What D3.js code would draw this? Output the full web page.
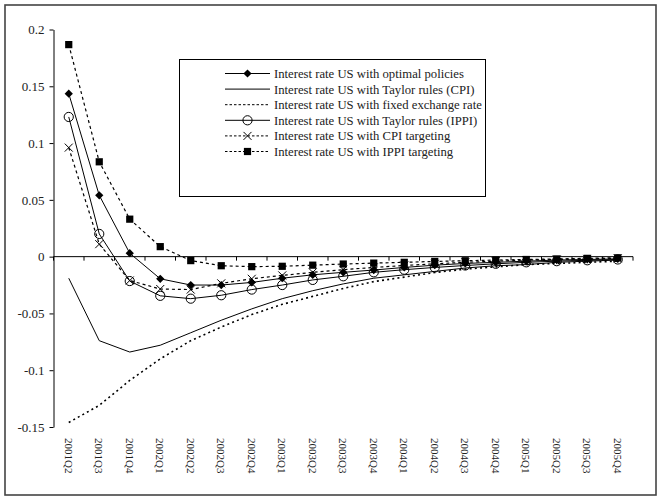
<!DOCTYPE html>
<html>
<head>
<meta charset="utf-8">
<script src="https://cdn.jsdelivr.net/npm/d3@7"></script>
<style>
  html, body { margin: 0; padding: 0; background: #fff; }
  svg { display: block; }
  text { font-family: "Liberation Serif", "DejaVu Serif", serif; fill: #222; }
</style>
</head>
<body>
<script>
// Quarters on the horizontal axis
const quarters = ["2001Q2","2001Q3","2001Q4","2002Q1","2002Q2","2002Q3","2002Q4",
  "2003Q1","2003Q2","2003Q3","2003Q4","2004Q1","2004Q2","2004Q3","2004Q4",
  "2005Q1","2005Q2","2005Q3","2005Q4"];

// US interest-rate responses under each policy regime
const optimalPolicies = [0.1435, 0.054, 0.003, -0.0195, -0.025, -0.025, -0.0227, -0.019, -0.016,
  -0.0138, -0.0118, -0.0095, -0.0075, -0.006, -0.005, -0.004, -0.003, -0.0025, -0.002];
const taylorCPI = [-0.019, -0.074, -0.084, -0.078, -0.067, -0.056, -0.046, -0.037, -0.030,
  -0.024, -0.019, -0.016, -0.013, -0.010, -0.008, -0.007, -0.005, -0.004, -0.003];
const fixedExchange = [-0.146, -0.131, -0.109, -0.090, -0.074, -0.062, -0.051, -0.042, -0.035,
  -0.028, -0.022, -0.018, -0.014, -0.011, -0.009, -0.007, -0.006, -0.005, -0.004];
const taylorIPPI = [0.123, 0.020, -0.0215, -0.0345, -0.037, -0.034, -0.029, -0.025, -0.0205,
  -0.0173, -0.0138, -0.0115, -0.0095, -0.0078, -0.0063, -0.005, -0.004, -0.0032, -0.0025];
const cpiTargeting = [0.096, 0.011, -0.021, -0.0285, -0.029, -0.0235, -0.0195, -0.0165, -0.0138,
  -0.0115, -0.0095, -0.0078, -0.0063, -0.005, -0.004, -0.003, -0.0025, -0.002, -0.0015];
const ippiTargeting = [0.1867, 0.0835, 0.033, 0.0088, -0.0035, -0.008, -0.0088, -0.0085, -0.0075,
  -0.0065, -0.0057, -0.005, -0.0042, -0.0036, -0.003, -0.0025, -0.002, -0.0015, -0.001];

const seriesNames = [
  "Interest rate US with optimal policies",
  "Interest rate US with Taylor rules (CPI)",
  "Interest rate US with fixed exchange rate",
  "Interest rate US with Taylor rules (IPPI)",
  "Interest rate US with CPI targeting",
  "Interest rate US with IPPI targeting"
];

// Vertical axis ticks
const yTickValues = [-0.15, -0.1, -0.05, 0, 0.05, 0.1, 0.15, 0.2];
const yTickLabels = ["-0.15", "-0.1", "-0.05", "0", "0.05", "0.1", "0.15", "0.2"];

const W = 661, H = 497;
const plot = { left: 53.5, right: 633, top: 29.5, bottom: 427 };

const series = [
  { name: seriesNames[0], values: optimalPolicies, marker: "diamond", dash: null, width: 1 },
  { name: seriesNames[1], values: taylorCPI, marker: null, dash: null, width: 1 },
  { name: seriesNames[2], values: fixedExchange, marker: null, dash: "2,3.2", width: 1.6 },
  { name: seriesNames[3], values: taylorIPPI, marker: "circle", dash: null, width: 1 },
  { name: seriesNames[4], values: cpiTargeting, marker: "cross", dash: "3,3", width: 1.2 },
  { name: seriesNames[5], values: ippiTargeting, marker: "square", dash: "3,3", width: 1.2 }
];

const svg = d3.select("body").append("svg").attr("width", W).attr("height", H);

// Outer frame
svg.append("rect")
  .attr("x", 5).attr("y", 5).attr("width", 651).attr("height", 490)
  .attr("fill", "none").attr("stroke", "#444").attr("stroke-width", 1.6);

const x = d3.scaleBand().domain(quarters).range([plot.left, plot.right]).padding(0);
const y = d3.scaleLinear().domain([-0.15, 0.2]).range([plot.bottom, plot.top]);
const cx = q => x(q) + x.bandwidth() / 2;

// Y axis
const yAxis = d3.axisLeft(y)
  .tickValues(yTickValues)
  .tickFormat((d, i) => yTickLabels[i])
  .tickSizeOuter(0)
  .tickSizeInner(4)
  .tickPadding(5);
const gy = svg.append("g").attr("transform", `translate(${plot.left},0)`).call(yAxis);
gy.selectAll("path.domain").attr("stroke", "#000");
gy.selectAll(".tick line").attr("stroke", "#000");
gy.selectAll(".tick text")
  .attr("font-family", "Liberation Serif, serif")
  .attr("font-size", 13).attr("fill", "#222");

// Zero line with category boundary ticks
const gx = svg.append("g").attr("transform", `translate(0,${y(0)})`);
gx.append("line").attr("x1", plot.left).attr("x2", plot.right)
  .attr("stroke", "#000").attr("stroke-width", 1);
const boundaries = quarters.map(q => x(q)).concat([x(quarters[quarters.length - 1]) + x.bandwidth()]);
gx.selectAll("line.tk").data(boundaries).join("line").attr("class", "tk")
  .attr("x1", d => d).attr("x2", d => d).attr("y1", 0).attr("y2", 4)
  .attr("stroke", "#000");

// Quarter labels along the bottom, rotated
const xAxis = d3.axisBottom(x).tickSize(0).tickPadding(0);
const gxl = svg.append("g").attr("transform", `translate(0,${plot.bottom + 11})`).call(xAxis);
gxl.select("path.domain").remove();
gxl.selectAll(".tick text")
  .attr("font-family", "Liberation Serif, serif")
  .attr("font-size", 11).attr("fill", "#222")
  .attr("transform", "rotate(90)")
  .attr("text-anchor", "start")
  .attr("x", 0).attr("y", 0).attr("dy", "0.35em");

// Lines
const line = d3.line().x((d, i) => cx(quarters[i])).y(d => y(d));
const gLines = svg.append("g");
series.forEach(s => {
  gLines.append("path")
    .datum(s.values)
    .attr("d", line)
    .attr("fill", "none")
    .attr("stroke", "#000")
    .attr("stroke-width", s.width)
    .attr("stroke-dasharray", s.dash);
});

// Marker drawing
function drawMarker(g, type, px, py) {
  if (type === "diamond") {
    g.append("path").attr("d", d3.symbol(d3.symbolSquare, 34)())
      .attr("transform", `translate(${px},${py}) rotate(45)`).attr("fill", "#000");
  } else if (type === "square") {
    g.append("path").attr("d", d3.symbol(d3.symbolSquare, 52)())
      .attr("transform", `translate(${px},${py})`).attr("fill", "#000");
  } else if (type === "circle") {
    g.append("circle").attr("cx", px).attr("cy", py).attr("r", 4.6)
      .attr("fill", "none").attr("stroke", "#000").attr("stroke-width", 1);
  } else if (type === "cross") {
    g.append("path").attr("d", "M-4,-4L4,4M-4,4L4,-4")
      .attr("transform", `translate(${px},${py})`)
      .attr("fill", "none").attr("stroke", "#000").attr("stroke-width", 1);
  }
}

const gMarks = svg.append("g");
series.forEach(s => {
  if (!s.marker) return;
  s.values.forEach((v, i) => drawMarker(gMarks, s.marker, cx(quarters[i]), y(v)));
});

// Legend
const legend = svg.append("g");
legend.append("rect")
  .attr("x", 179.5).attr("y", 59.5).attr("width", 306).attr("height", 137)
  .attr("fill", "#fff").attr("stroke", "#000").attr("stroke-width", 1);
series.forEach((s, i) => {
  const ly = 73.5 + i * 15.6;
  legend.append("line")
    .attr("x1", 225).attr("x2", 270).attr("y1", ly).attr("y2", ly)
    .attr("stroke", "#000").attr("stroke-width", 1)
    .attr("stroke-dasharray", s.dash ? "2.5,2" : null);
  if (s.marker) drawMarker(legend, s.marker, 247.5, ly);
  legend.append("text")
    .attr("x", 274).attr("y", ly).attr("dy", "0.35em")
    .attr("font-size", 12.7).attr("fill", "#222")
    .text(s.name);
});
</script>
</body>
</html>
